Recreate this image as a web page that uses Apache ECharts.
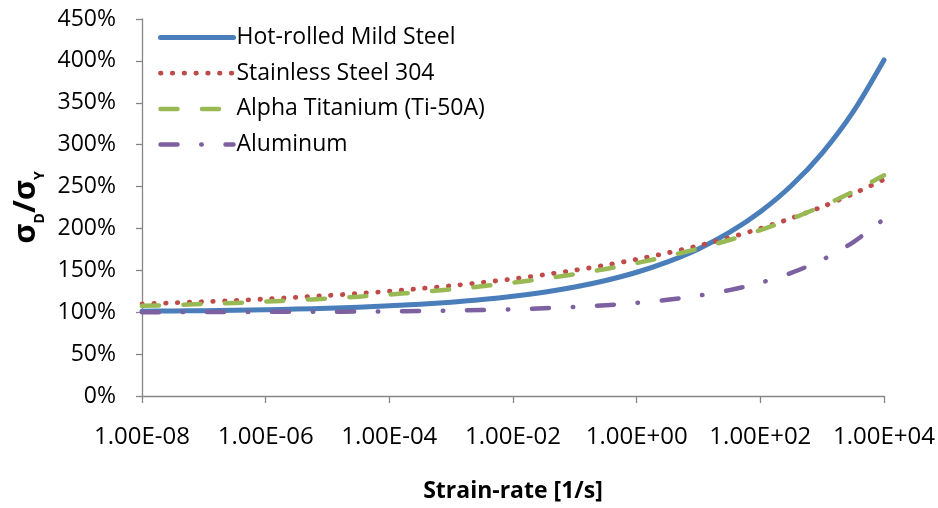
<!DOCTYPE html>
<html>
<head>
<meta charset="utf-8">
<script src="https://cdn.jsdelivr.net/npm/echarts@6/dist/echarts.min.js"></script>
<style>
  html, body { margin: 0; padding: 0; background: #fff; }
  #chart { width: 938px; height: 508px; }
</style>
</head>
<body>
<div id="chart"></div>
<script>
// Strain rate, 1/s (half-decade steps from 1e-8 to 1e4)
const strainRate = [
  1e-8, 3.16e-8, 1e-7, 3.16e-7, 1e-6, 3.16e-6, 1e-5, 3.16e-5, 1e-4, 3.16e-4,
  1e-3, 3.16e-3, 1e-2, 3.16e-2, 1e-1, 3.16e-1, 1, 3.16, 10, 31.6,
  100, 316, 1000, 3160, 10000
];

// Dynamic-to-static yield stress ratio, %
const hotRolledMildSteel = [
  101.2, 101.5, 101.9, 102.4, 103.0, 103.8, 104.8, 106.0, 107.6, 109.5,
  112.0, 115.1, 119.0, 123.9, 130.1, 137.9, 147.7, 160.1, 175.6, 195.2,
  219.9, 250.9, 290.0, 339.1, 401.1
];
const stainlessSteel304 = [
  110.0, 111.2, 112.6, 114.1, 115.8, 117.8, 120.0, 122.4, 125.1, 128.2,
  131.6, 135.5, 139.8, 144.7, 150.1, 156.2, 163.1, 170.8, 179.4, 189.1,
  200.0, 212.2, 225.9, 241.3, 258.5
];
const alphaTitanium = [
  107.6, 108.6, 109.8, 111.1, 112.7, 114.4, 116.3, 118.6, 121.1, 124.0,
  127.3, 131.0, 135.2, 140.0, 145.5, 151.7, 158.7, 166.8, 175.9, 186.2,
  198.0, 211.4, 226.6, 243.8, 263.5
];
const aluminum = [
  100.1, 100.1, 100.2, 100.3, 100.4, 100.5, 100.6, 100.8, 101.1, 101.5,
  102.0, 102.6, 103.5, 104.7, 106.3, 108.3, 111.1, 114.8, 119.8, 126.4,
  135.2, 147.0, 162.6, 183.5, 211.4
];

const seriesNames = [
  'Hot-rolled Mild Steel',
  'Stainless Steel 304',
  'Alpha Titanium (Ti-50A)',
  'Aluminum'
];

// x-axis tick labels, one per two decades
const xTickLabels = ['1.00E-08', '1.00E-06', '1.00E-04', '1.00E-02', '1.00E+00', '1.00E+02', '1.00E+04'];

const FONT = '"Open Sans", "Noto Sans", sans-serif';

function pairs(ys) {
  return strainRate.map((x, i) => [x, ys[i]]);
}

function lineSeries(name, ys, color, width, dash) {
  return {
    name: name,
    type: 'line',
    data: pairs(ys),
    smooth: 0.3,
    showSymbol: false,
    symbol: 'none',
    silent: true,
    lineStyle: {
      color: color,
      width: width,
      type: dash || 'solid',
      cap: 'round',
      join: 'round'
    },
    itemStyle: { color: color }
  };
}

const chart = echarts.init(document.getElementById('chart'), null, { renderer: 'canvas' });

chart.setOption({
  animation: false,
  backgroundColor: '#ffffff',
  textStyle: { fontFamily: FONT },
  grid: { left: 142, right: 51, top: 19, bottom: 108, containLabel: false },
  legend: {
    orient: 'vertical',
    left: 158,
    top: 26,
    padding: 0,
    itemWidth: 73,
    itemHeight: 20,
    itemGap: 12.7,
    selectedMode: false,
    // line-only legend keys: hide the marker drawn at the centre of each key
    itemStyle: { opacity: 0 },
    lineStyle: { width: 'inherit' },
    textStyle: { fontFamily: FONT, fontSize: 23, color: '#000', lineHeight: 20, padding: [0, 0, 0, -2] },
    data: seriesNames
  },
  xAxis: {
    type: 'log',
    logBase: 10,
    min: 1e-8,
    max: 1e4,
    interval: 2,
    axisLine: { lineStyle: { color: '#868686', width: 1.3 } },
    axisTick: { show: true, length: 7, lineStyle: { color: '#868686', width: 1.3 } },
    minorTick: { show: false },
    splitLine: { show: false },
    axisLabel: {
      fontFamily: FONT,
      fontSize: 24,
      color: '#000',
      margin: 29,
      formatter: function (v) {
        const k = Math.round((Math.log10(v) + 8) / 2);
        return xTickLabels[k] || '';
      }
    },
    name: 'Strain-rate [1/s]',
    nameLocation: 'middle',
    nameGap: 84,
    nameTextStyle: { fontFamily: FONT, fontSize: 23, fontWeight: 'bold', color: '#000' }
  },
  yAxis: {
    type: 'value',
    min: 0,
    max: 450,
    interval: 50,
    axisLine: { show: true, lineStyle: { color: '#868686', width: 1.3 } },
    axisTick: { show: true, length: 6, lineStyle: { color: '#868686', width: 1.3 } },
    splitLine: { show: false },
    axisLabel: {
      fontFamily: FONT,
      fontSize: 23,
      color: '#000',
      margin: 26,
      formatter: '{value}%'
    },
    name: '{s|σ}{sub|D}{s|/σ}{sub|Y}',
    nameLocation: 'middle',
    nameGap: 95,
    nameTextStyle: {
      color: '#000',
      padding: [0, 0, 0, 0],
      rich: {
        s: { fontFamily: FONT, fontSize: 31, fontWeight: 'bold', color: '#000', lineHeight: 40, verticalAlign: 'middle' },
        sub: { fontFamily: FONT, fontSize: 14, fontWeight: 'bold', color: '#000', lineHeight: 14, verticalAlign: 'bottom' }
      }
    }
  },
  series: [
    lineSeries(seriesNames[0], hotRolledMildSteel, '#4A7EBB', 5),
    lineSeries(seriesNames[1], stainlessSteel304, '#BE4B48', 4.8, [0.5, 11.3]),
    lineSeries(seriesNames[2], alphaTitanium, '#98B954', 4.5, [17, 24.5]),
    lineSeries(seriesNames[3], aluminum, '#7D60A0', 4.5, [17, 23.75, 0.5, 23.75])
  ]
});
</script>
</body>
</html>
